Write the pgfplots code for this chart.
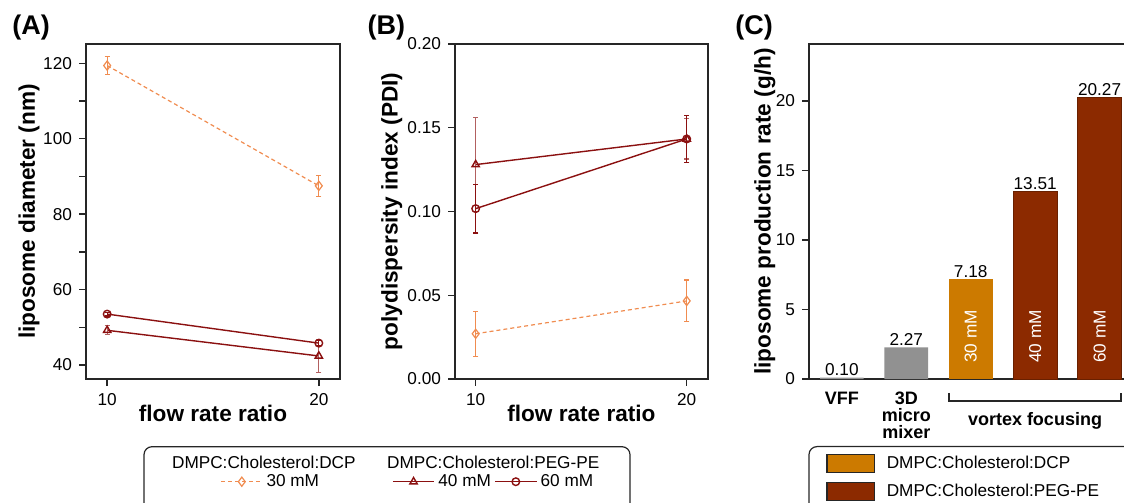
\documentclass[border=0pt]{standalone}
\usepackage{fontspec}
\setmainfont{Liberation Sans}
\usepackage{pgfplots}
\pgfplotsset{compat=1.18}

\definecolor{lorange}{RGB}{240,140,80}
\definecolor{dred}{RGB}{139,16,16}
\definecolor{dredlight}{RGB}{178,96,96}
\definecolor{barorange}{RGB}{204,122,0}
\definecolor{barred}{RGB}{140,42,0}
\definecolor{bargray}{RGB}{145,145,145}

\newcommand{\tfont}{\fontsize{8.6}{10}\selectfont}
\newcommand{\lfont}{\fontsize{11.3}{13}\selectfont\bfseries}
\newcommand{\bfont}{\fontsize{9}{8.5}\selectfont\bfseries}
\newcommand{\pfont}{\fontsize{13.5}{15}\selectfont\bfseries}

\pgfplotsset{
  panel/.style={
    scale only axis, height=167.5pt, anchor=south west,
    axis line style={line width=0.7pt, black!85},
    every tick/.style={line width=0.7pt, black!85},
    tick align=outside, tick pos=left,
    major tick length=3.5pt, minor tick length=3.5pt,
    tick label style={font=\tfont},
    /pgf/number format/assume math mode=true,
    clip=false,
  },
  s30/.style={color=lorange, line width=0.6pt, dash pattern=on 2pt off 1.5pt,
    mark=diamond, mark size=2.3pt, mark options={solid, fill=white},
    error bars/.cd, y dir=both, y explicit,
    error bar style={solid, line width=0.6pt},
    error mark options={rotate=90, mark size=1.3pt, line width=0.6pt, solid}},
  s40/.style={color=dred, line width=0.7pt,
    mark=triangle, mark size=2.1pt, mark options={solid, fill=white},
    error bars/.cd, y dir=both, y explicit,
    error bar style={solid, line width=0.6pt, dredlight},
    error mark options={rotate=90, mark size=1.3pt, line width=0.6pt, dredlight}},
  s60/.style={color=dred, line width=0.7pt,
    mark=o, mark size=1.9pt, mark options={solid, fill=white},
    error bars/.cd, y dir=both, y explicit,
    error bar style={solid, line width=0.6pt},
    error mark options={rotate=90, mark size=1.3pt, line width=0.6pt}},
}

\begin{document}
\begin{tikzpicture}
% ---------------- Panel A ----------------
\begin{axis}[panel, at={(43pt,62pt)}, width=127pt,
  xmin=9, xmax=21, ymin=36.29, ymax=125.12,
  xtick={10,20}, ytick={40,60,80,100,120}, minor ytick={50,70,90,110},
  xlabel={flow rate ratio}, ylabel={liposome diameter (nm)},
  every axis x label/.style={at={(axis description cs:0.5,-0.1015)}, anchor=center, font=\lfont},
  every axis y label/.style={at={(axis description cs:-0.224,0.5)}, anchor=center, rotate=90, font=\lfont},
  legend columns=3,
  legend image code/.code={\draw[mark repeat=2,mark phase=2,#1] plot coordinates {(0pt,0pt) (10.4pt,0pt) (20.8pt,0pt)};},
  legend style={at={(0.5276,-0.3066)}, anchor=west, draw=none, fill=none,
    inner sep=0pt, nodes={inner sep=0pt}, font=\tfont,
    /tikz/every odd column/.style={column sep=1.65pt},
    /tikz/column 2/.style={column sep=36.5pt},
    /tikz/column 4/.style={column sep=1.7pt}},
]
\addplot[s30] coordinates {(10,119.4) +- (0,2.4) (20,87.5) +- (0,2.8)};
\addlegendentry{30 mM}
\addplot[s40] coordinates {(10,49.2) +- (0,1.2) (20,42.4) +- (0,4.3)};
\addlegendentry{40 mM}
\addplot[s60] coordinates {(10,53.5) +- (0,0.5) (20,45.8) +- (0,0.6)};
\addlegendentry{60 mM}
\end{axis}

% ---------------- Panel B ----------------
\begin{axis}[panel, at={(227.5pt,62pt)}, width=126.4pt,
  xmin=9.02, xmax=21, ymin=0, ymax=0.2,
  xtick={10,20}, ytick={0,0.05,0.10,0.15,0.20},
  yticklabel style={/pgf/number format/.cd, fixed, fixed zerofill, precision=2},
  scaled y ticks=false,
  xlabel={flow rate ratio}, ylabel={polydispersity index (PDI)},
  every axis x label/.style={at={(axis description cs:0.5,-0.1015)}, anchor=center, font=\lfont},
  every axis y label/.style={at={(axis description cs:-0.2505,0.5)}, anchor=center, rotate=90, font=\lfont},
]
\addplot[s30] coordinates {(10,0.027) +- (0,0.0135) (20,0.0466) +- (0,0.0125)};
\addplot[s40] coordinates {(10,0.128) +- (0,0.028) (20,0.1433) +- (0,0.012)};
\addplot[s60] coordinates {(10,0.1017) +- (0,0.0145) (20,0.1433) +- (0,0.014)};
\end{axis}

% ---------------- Panel C ----------------
\begin{axis}[panel, at={(404.5pt,62pt)}, width=158.5pt,
  xmin=-0.51, xmax=4.41, ymin=0, ymax=24.1,
  ybar, bar width=21.85pt,
  ytick={0,5,10,15,20},
  xtick={0,1}, xticklabels={VFF,{3D\\micro\\mixer}},
  xticklabel style={font=\bfont, align=center, anchor=north, yshift=0.5pt},
  major x tick style={draw=none},
  ylabel={liposome production rate (g/h)},
  every axis y label/.style={at={(axis description cs:-0.139,0.5)}, anchor=center, rotate=90, font=\lfont},
  nodes near coords={\pgfmathprintnumber[fixed,fixed zerofill,precision=2]{\pgfplotspointmeta}},
  nodes near coords style={font=\tfont, inner sep=0.8pt, text=black, anchor=south},
  legend style={at={(0.0527,-0.294)}, anchor=west, draw=none, fill=none,
    inner sep=0pt, nodes={inner sep=0pt}, font=\tfont, row sep=4.5pt,
    cells={anchor=west},
    /tikz/every odd column/.style={column sep=5.85pt}},
]
\addplot[bar shift=0pt, fill=bargray, draw=none, forget plot] coordinates {(0,0.10) (1,2.27)};
\addplot[bar shift=0pt, fill=barorange, draw=none,
  legend image code/.code={\draw[fill=barorange, draw=black!85, line width=0.7pt] (0pt,-4.5pt) rectangle (23.8pt,4.5pt);}]
  coordinates {(2,7.18)};
\addlegendentry{DMPC:Cholesterol:DCP}
\addplot[bar shift=0pt, fill=barred, draw=barred!75!black, line width=0.4pt,
  legend image code/.code={\draw[fill=barred, draw=black!85, line width=0.7pt] (0pt,-4.5pt) rectangle (23.8pt,4.5pt);}]
  coordinates {(3,13.51) (4,20.27)};
\addlegendentry{DMPC:Cholesterol:PEG-PE}
\node[rotate=90, text=white, font=\tfont] at (axis cs:2,3.06) {30 mM};
\node[rotate=90, text=white, font=\tfont] at (axis cs:3,3.06) {40 mM};
\node[rotate=90, text=white, font=\tfont] at (axis cs:4,3.06) {60 mM};
\end{axis}

% ---------------- decorations ----------------
\node[anchor=west, font=\pfont, inner sep=0pt] at (6pt,237.5pt) {(A)};
\node[anchor=west, font=\pfont, inner sep=0pt] at (183.6pt,237.5pt) {(B)};
\node[anchor=west, font=\pfont, inner sep=0pt] at (367.5pt,237.5pt) {(C)};

\draw[line width=0.7pt, black!85] (474.5pt,55pt) -- (474.5pt,51pt) -- (560.5pt,51pt) -- (560.5pt,55pt);
\node[font=\bfont] at (517.5pt,41pt) {vortex focusing};

\draw[line width=0.6pt, black!85, rounded corners=4pt] (72pt,-6pt) -- (72pt,28.15pt) -- (315pt,28.15pt) -- (315pt,-6pt);
\node[anchor=west, font=\tfont, inner sep=0pt] at (85.85pt,20.15pt) {DMPC:Cholesterol:DCP};
\node[anchor=west, font=\tfont, inner sep=0pt] at (193.35pt,20.15pt) {DMPC:Cholesterol:PEG-PE};

\draw[line width=0.6pt, black!85, rounded corners=4pt] (404.5pt,-6pt) -- (404.5pt,28.2pt) -- (575pt,28.2pt);

\pgfresetboundingbox
\path[use as bounding box] (0,0) rectangle (562pt,251.5pt);
\end{tikzpicture}
\end{document}
